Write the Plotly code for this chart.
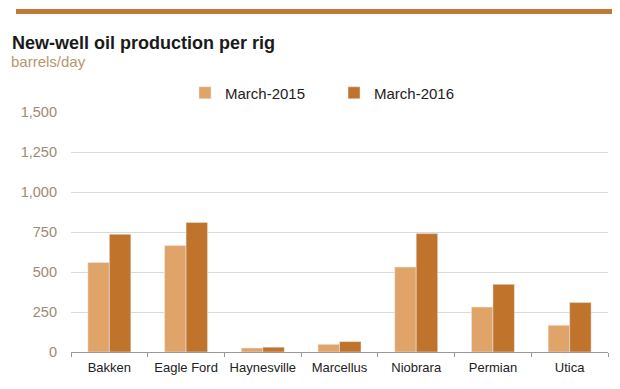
import plotly.graph_objects as go

categories = ["Bakken", "Eagle Ford", "Haynesville", "Marcellus", "Niobrara", "Permian", "Utica"]
march_2015 = [560, 665, 25, 48, 531, 281, 167]
march_2016 = [736, 810, 30, 65, 740, 423, 309]
series_names = ["March-2015", "March-2016"]
y_ticks = [0, 250, 500, 750, 1000, 1250, 1500]
y_tick_labels = ["0", "250", "500", "750", "1,000", "1,250", "1,500"]

FONT = "Liberation Sans, Arial, sans-serif"
C15 = "#E0A469"
C16 = "#C0742B"

OFF = 8  # page body margin
W, H = 620 - OFF, 389 - OFF
L, R, T, B = 71 - OFF, 12, 112 - OFF, 389 - 352
pw = W - L - R
ph = H - T - B

def px_x(x):
    return (x - OFF - L) / pw

def px_y(y):
    return (H - B - (y - OFF)) / ph

fig = go.Figure()
fig.add_trace(go.Bar(x=categories, y=march_2015, name=series_names[0], marker_color=C15))
fig.add_trace(go.Bar(x=categories, y=march_2016, name=series_names[1], marker_color=C16))

fig.update_layout(
    width=W, height=H,
    margin=dict(l=L, r=R, t=T, b=B, autoexpand=False),
    paper_bgcolor="white", plot_bgcolor="white",
    barmode="group", bargap=0.44, bargroupgap=0,
    font=dict(family=FONT),
    title=dict(text="<b>New-well oil production per rig</b>", x=(12 - OFF) / W, xanchor="left",
               xref="container", y=1 - (43 - OFF) / H, yanchor="middle", yref="container",
               font=dict(size=18, color="#1a1a1a", family=FONT)),
    legend=dict(orientation="h", x=px_x(185), xanchor="left", y=px_y(93), yanchor="middle",
                font=dict(size=15, color="#222", family=FONT), entrywidth=104,
                entrywidthmode="pixels", bgcolor="rgba(0,0,0,0)"),
    xaxis=dict(tickson="boundaries", ticks="outside", ticklen=4, tickcolor="#999",
               showline=True, linecolor="#999", linewidth=1, showgrid=False,
               ticklabelstandoff=3,
               tickfont=dict(size=13, color="#222", family=FONT)),
    yaxis=dict(range=[0, 1500], tickvals=y_ticks, ticktext=y_tick_labels,
               showgrid=True, gridcolor="#DADADA", gridwidth=1, zeroline=False,
               ticks="", ticklabelstandoff=13,
               tickfont=dict(size=14.5, color="#A08A72", family=FONT)),
    shapes=[dict(type="rect", xref="paper", yref="paper",
                 x0=px_x(16), x1=px_x(616), y0=px_y(14), y1=px_y(9),
                 fillcolor="#BF7A36", line=dict(width=0))],
    annotations=[dict(text="barrels/day", xref="paper", yref="paper", x=px_x(12), y=px_y(61),
                      xanchor="left", yanchor="middle", showarrow=False, xshift=-3,
                      font=dict(size=15, color="#B8966E", family=FONT))],
)

fig.write_html("out.html")
